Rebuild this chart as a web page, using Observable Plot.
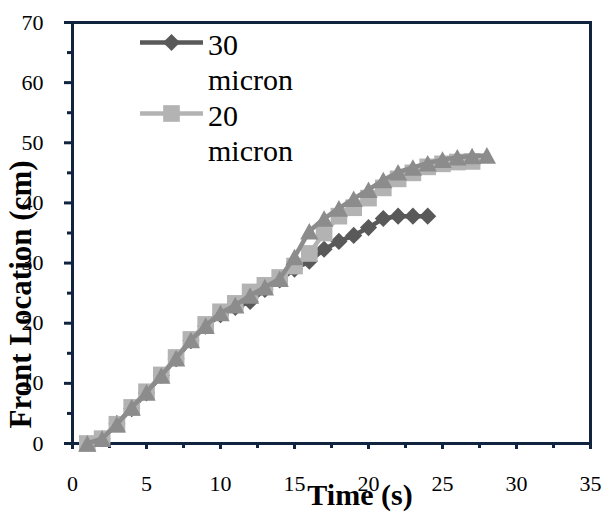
<!DOCTYPE html>
<html><head><meta charset="utf-8">
<script src="https://cdn.jsdelivr.net/npm/d3@7"></script>
<script src="https://cdn.jsdelivr.net/npm/@observablehq/plot@0.6"></script>
<style>html,body{margin:0;padding:0;background:#fff}#chart{width:604px;height:514px}</style>
</head><body><div id="chart"></div>
<script>
// ---- data ----
const time = [1,2,3,4,5,6,7,8,9,10,11,12,13,14,15,16,17,18,19,20,21,22,23,24,25,26,27,28];
const front30 = [0,0.8,3.3,5.8,8.4,11.3,14.1,17.1,19.5,21.4,22.6,23.6,25.6,27.2,29,30.3,32.3,33.6,34.6,35.9,37.4,37.8,37.8,37.8];
const front20 = [0,0.8,3.2,6,8.6,11.4,14.3,17.3,19.8,21.9,23.3,25.2,26.3,27.6,29.5,31.6,35,37.8,39.2,40.8,42.5,44,45,46,46.5,46.8,46.9];
const frontTri = [0,0.8,3.2,6,8.5,11.3,14.2,17.2,19.6,21.7,23,24.6,26,27.4,31,35.3,37.4,39.1,40.7,42.2,43.8,45.1,45.9,46.6,47.2,47.6,47.8,47.9];
const seriesNames = ["30 micron", "20 micron", "third series"];
const legendNames = ["30 micron", "20 micron"];
const xTicks = [0,5,10,15,20,25,30,35];
const xMinorTicks = [2.5,7.5,12.5,17.5,22.5,27.5,32.5];
const yTicks = [0,10,20,30,40,50,60,70];
const yMinorTicks = [5,15,25,35,45,55,65];
const xTitle = "Time (s)";
const yTitle = "Front Location (cm)";

// ---- styling ----
const navy = "#10243f";
const serif = "Liberation Serif, Times New Roman, serif";
const colors = ["#595959", "#b3b3b3", "#8c8c8c"];
const triSymbol = {draw(ctx, size) { const r = Math.sqrt(size / Math.PI); ctx.moveTo(0, -r); ctx.lineTo(r * 1.1, r); ctx.lineTo(-r * 1.1, r); ctx.closePath(); }};
const symbols = ["diamond2", "square", triSymbol];
const radii = [7.7, 9.4, 8.3];

const seriesValues = [front30, front20, frontTri];
const rows = seriesValues.map((vals, k) => vals.map((v, i) => ({t: time[i], v, s: seriesNames[k]})));

const W = 604, H = 514, mL = 72, mR = 14, mT = 22, mB = 71;

const seriesMarks = rows.flatMap((data, k) => [
  Plot.line(data, {x: "t", y: "v", stroke: colors[k], strokeWidth: 4.5}),
  Plot.dot(data, {x: "t", y: "v", symbol: () => symbols[k], r: radii[k], fill: colors[k], stroke: "none"})
]);

const plot = Plot.plot({
  width: W, height: H,
  marginLeft: mL, marginRight: mR, marginTop: mT, marginBottom: mB,
  style: {fontFamily: serif, fontSize: "22px", color: "black", background: "white", overflow: "visible"},
  x: {domain: [0, 35], label: null},
  y: {domain: [0, 70], label: null},
  symbol: {type: "identity"},
  marks: [
    Plot.axisY({ticks: yMinorTicks, tickSize: 5, strokeWidth: 3, stroke: navy, tickFormat: () => "", label: null}),
    Plot.axisY({ticks: yTicks, tickSize: 8, tickPadding: 21, strokeWidth: 3, stroke: navy, fill: "black", label: null, fontFamily: serif}),
    Plot.axisX({ticks: xMinorTicks, tickSize: 5, strokeWidth: 3, stroke: navy, tickFormat: () => "", label: null}),
    Plot.axisX({ticks: xTicks, tickSize: 6, tickPadding: 26, strokeWidth: 3, stroke: navy, fill: "black", label: null, fontFamily: serif}),
    Plot.frame({stroke: navy, strokeWidth: 3}),
    ...seriesMarks
  ]
});
document.getElementById("chart").appendChild(plot);

// ---- titles and legend ----
const svg = d3.select(plot);
svg.append("text")
  .attr("x", mL + (W - mL - mR) / 2 + 29).attr("y", H - 9)
  .attr("text-anchor", "middle").attr("font-family", serif)
  .attr("font-size", 30).attr("font-weight", "bold").attr("fill", "black")
  .text(xTitle);
svg.append("text")
  .attr("transform", `translate(31, ${mT + (H - mT - mB) / 2 + 62}) rotate(-90)`)
  .attr("text-anchor", "middle").attr("font-family", serif)
  .attr("font-size", 31).attr("font-weight", "bold").attr("fill", "black")
  .text(yTitle);

const leg = svg.append("g");
legendNames.forEach((name, i) => {
  const ly = 42.5 + 71 * i;
  const g = leg.append("g");
  g.append("line").attr("x1", 140).attr("x2", 203).attr("y1", ly).attr("y2", ly)
    .attr("stroke", colors[i]).attr("stroke-width", 4.5);
  const sym = typeof symbols[i] === "string" ? (symbols[i] === "square" ? d3.symbolSquare : d3.symbolDiamond2) : symbols[i];
  g.append("path").attr("transform", `translate(171.5, ${ly})`)
    .attr("d", d3.symbol(sym, Math.PI * radii[i] * radii[i])())
    .attr("fill", colors[i]);
  const parts = name.split(" ");
  const txt = g.append("text").attr("font-family", serif).attr("font-size", 30)
    .attr("text-anchor", "start").attr("fill", "black");
  parts.forEach((p, j) => {
    txt.append("tspan").attr("x", 208).attr("y", ly + 12 + 35.5 * j).text(p);
  });
});
</script>
</body></html>
